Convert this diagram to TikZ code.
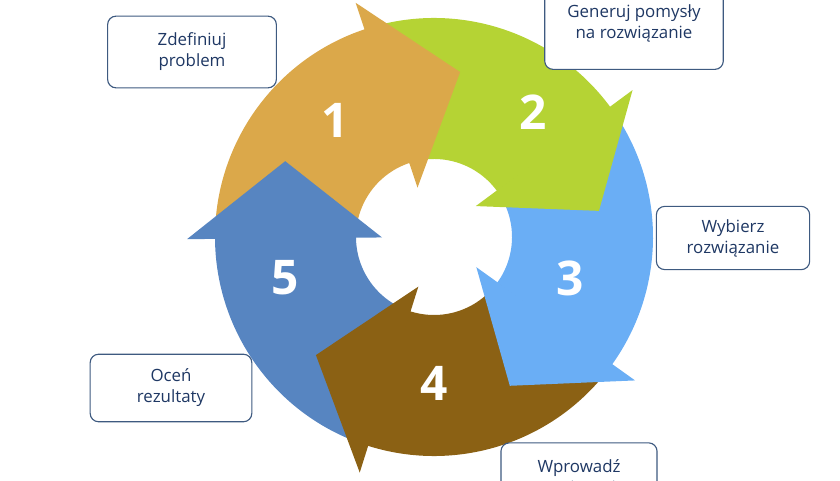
\documentclass[tikz,border=0pt]{standalone}
\usepackage{fontspec}
\setmainfont{Open Sans}
\definecolor{stepA}{HTML}{DBA84A}
\definecolor{stepB}{HTML}{B5D334}
\definecolor{stepC}{HTML}{6AAEF5}
\definecolor{stepD}{HTML}{8B6114}
\definecolor{stepE}{HTML}{5785C1}
\definecolor{navy}{HTML}{1F3864}
\definecolor{frame}{HTML}{3E5A80}
\tikzset{
  box/.style={draw=frame, line width=0.8pt, rounded corners=6pt, fill=white,
    text=navy, align=center, font=\fontsize{12}{15}\selectfont},
  num/.style={text=white, font=\fontsize{34}{34}\selectfont\bfseries},
}
% body of one step, then its head
\newcommand{\stepbody}[2]{%
  \fill[#2, shift={(434,243)}] (#1+72:78) -- (#1+72:219)
    arc[start angle=#1+72, end angle=#1-1, radius=219] -- (#1-1:78)
    arc[start angle=#1-1, end angle=#1+72, radius=78] -- cycle;}
\newcommand{\stephead}[2]{%
  \fill[#2, shift={(434,243)}] (#1+0.5:52) -- (#1+0.5:247) -- (#1-27:167) -- cycle;}
\begin{document}
\begin{tikzpicture}[x=0.025cm, y=0.025cm]
  \useasboundingbox (0,0) rectangle (840,480);
  \clip (0,0) rectangle (840,480);
  \stepbody{108}{stepA}
  \stepbody{36}{stepB}
  \stepbody{-36}{stepC}
  \stepbody{-108}{stepD}
  \stepbody{180}{stepE}
  \stephead{108}{stepA}
  \stephead{36}{stepB}
  \stephead{-36}{stepC}
  \stephead{-108}{stepD}
  \stephead{180}{stepE}
  %
  \node[num] (n1) at (335,360) {1};
  \node[num] (n2) at (533,368) {2};
  \node[num] (n3) at (570,202) {3};
  \node[num] (n4) at (434,97) {4};
  \node[num] (n5) at (285,202) {5};
  %
  \node[box, minimum width=120pt, minimum height=51pt] (b1) at (192,428) {Zdefiniuj\\problem};
  \node[box, minimum width=127pt, minimum height=66pt] (b2) at (634,457) {Generuj pomysły\\na rozwiązanie};
  \node[box, minimum width=109pt, minimum height=45pt] (b3) at (733,242) {Wybierz\\rozwiązanie};
  \node[box, minimum width=115pt, minimum height=48pt] (b5) at (171,92) {Oceń\\rezultaty};
  \node[box, minimum width=111pt, minimum height=50pt] (b4) at (579,2) {Wprowadź\\rozwiązanie};
\end{tikzpicture}
\end{document}
